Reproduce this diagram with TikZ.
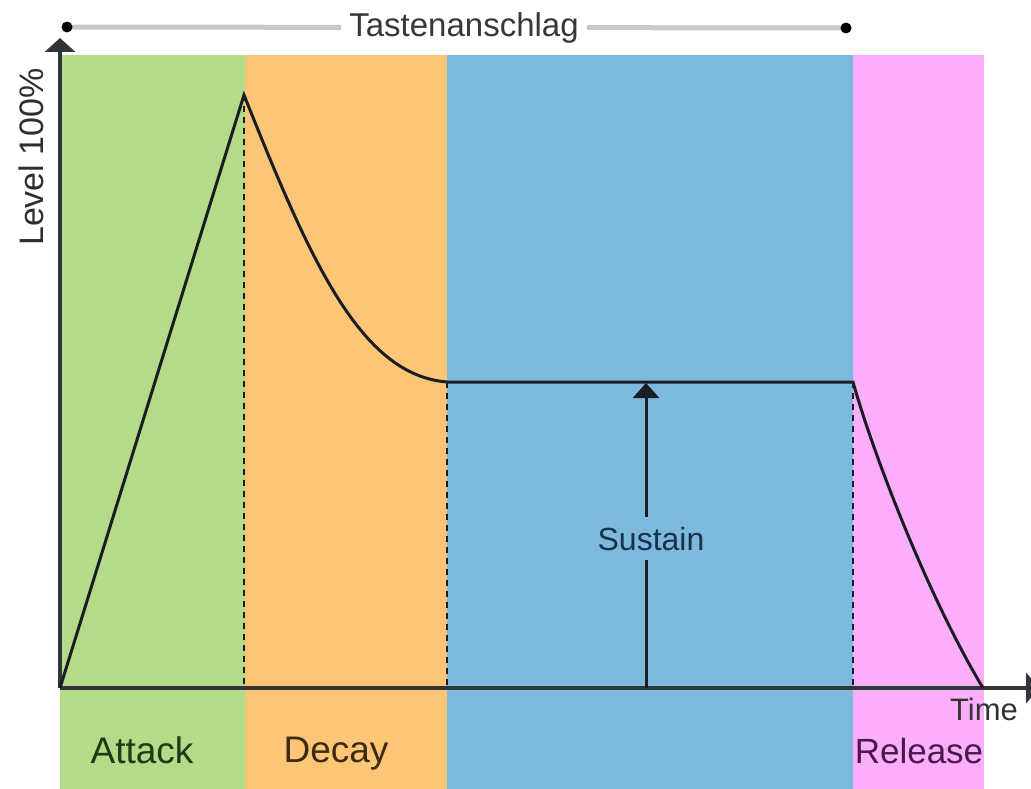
\documentclass[tikz,border=0pt]{standalone}
\usepackage{fontspec}
\setmainfont{Liberation Sans}
\usetikzlibrary{arrows.meta}
\definecolor{attackc}{HTML}{B4DB88}
\definecolor{decayc}{HTML}{FDC677}
\definecolor{sustc}{HTML}{7DB9DD}
\definecolor{relc}{HTML}{FCAEFB}
\definecolor{barc}{HTML}{C8C8C4}
\definecolor{inkc}{HTML}{1A1E24}
\definecolor{atxt}{HTML}{213A16}
\definecolor{dtxt}{HTML}{3E2A10}
\definecolor{stxt}{HTML}{17324A}
\definecolor{rtxt}{HTML}{4A1A4C}
\tikzset{
  axisline/.style={line width=3.4pt, color=inkc!90, -{Triangle[width=30pt,length=14pt]}},
  envline/.style={line width=3pt, color=inkc},
  dashline/.style={line width=2.4pt, color=inkc, dash pattern=on 6pt off 5pt},
  lbl/.style={anchor=base, inner sep=0pt, font=\fontsize{37}{40}\selectfont},
  smalllbl/.style={anchor=base, font=\fontsize{32}{36}\selectfont},
}
\begin{document}
\begin{tikzpicture}[x=1pt,y=-1pt]
\useasboundingbox (0,0) rectangle (1031,789);
\clip (0,0) rectangle (1031,789);
\fill[white] (0,0) rectangle (1031,789);
% bands
\fill[attackc] (60,55) rectangle (245,789);
\fill[decayc] (245,55) rectangle (447,789);
\fill[sustc] (447,55) rectangle (853,789);
\fill[relc] (853,55) rectangle (984,789);
% key points
\coordinate (o) at (60,688);
\coordinate (peak) at (244,95);
\coordinate (s1) at (447,382);
\coordinate (s2) at (853,382);
\coordinate (rend) at (983,688);
\coordinate (yt) at (60,38);
\coordinate (xt) at (1040,688);
% dashed guides
\draw[dashline] (peak) -- (peak |- o);
\draw[dashline] (s1) -- (s1 |- o);
\draw[dashline] (s2) -- (s2 |- o);
% axes
\draw[axisline] (o) -- (yt);
\draw[axisline] (o) -- (xt);
% envelope
\draw[envline, line join=miter] (o) -- (peak)
  .. controls (310,260) and (360,375) .. (s1) -- (s2)
  .. controls (875,460) and (930,600) .. (rend);
% sustain arrow
\coordinate (sb) at (646,688);
\coordinate (sa) at (646,383);
\draw[envline, -{Triangle[width=26pt,length=15pt]}] (sb) -- (sa);
\node[smalllbl, fill=sustc, inner xsep=3pt, inner ysep=10pt, text=stxt] (sus) at (651,550) {Sustain};
% key press bar
\coordinate (k1) at (67,27);
\coordinate (k2) at (846,28);
\draw[barc, line width=5pt] (k1) -- (k2);
\fill[black] (k1) circle (5.5pt);
\fill[black] (k2) circle (5.5pt);
\node[smalllbl, fill=white, inner xsep=8pt, inner ysep=4pt, text=black!78, font=\fontsize{33}{36}\selectfont] (key) at (464,37) {Tastenanschlag};
% labels
\node[lbl, text=atxt] (att) at (142,763) {Attack};
\node[lbl, text=dtxt] (dec) at (336,762) {Decay};
\node[lbl, text=rtxt, font=\fontsize{35}{38}\selectfont] (rel) at (919,763) {Release};
\node[smalllbl, inner sep=0pt, text=black!80, font=\fontsize{31}{34}\selectfont] (time) at (984,720) {Time};
\node[anchor=base, inner sep=0pt, rotate=90, text=black!82, font=\fontsize{34}{36}\selectfont] (lev) at (43,157) {Level 100\%};
\end{tikzpicture}
\end{document}
